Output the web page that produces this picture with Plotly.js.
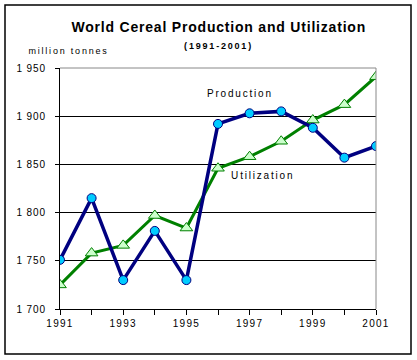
<!DOCTYPE html>
<html><head><meta charset="utf-8">
<script src="https://cdn.plot.ly/plotly-3.0.1.min.js"></script>
<style>
html,body{margin:0;padding:0;background:#fff;}
#chart .xtick text { letter-spacing: 1.3px; }
#chart .ytick text { letter-spacing: 0.9px; }
#chart .annotation text { letter-spacing: 1.8px; }
#chart .annotation[data-index="0"] text { letter-spacing: 0.8px; }
</style>
</head><body>
<div id="chart" style="width:417px;height:360px;"></div>
<script>
const years = [1991,1992,1993,1994,1995,1996,1997,1998,1999,2000,2001];
const production = [1751,1815,1730,1781,1730,1892,1903,1905,1888,1857,1869];
const utilization = [1725,1758,1766,1797,1784,1846,1858,1874,1896,1912,1941];
const xTickLabels = ['1991','','1993','','1995','','1997','','1999','','2001'];
const yTicks = [1700,1750,1800,1850,1900,1950];
const yTickLabels = ['1 700','1 750','1 800','1 850','1 900','1 950'];

const font = 'Liberation Sans, Arial, sans-serif';
const traces = [
  {x: years, y: utilization, type:'scatter', mode:'lines+markers', name:'Utilization',
   line:{color:'#008000', width:3},
   marker:{symbol:'triangle-up', size:11, color:'#CCFFCC', line:{color:'#008000', width:1}}},
  {x: years, y: production, type:'scatter', mode:'lines+markers', name:'Production',
   line:{color:'#000080', width:3.5},
   marker:{symbol:'circle', size:9, color:'#00CCFF', line:{color:'#000080', width:1}}}
];
const layout = {
  width:417, height:360,
  margin:{l:60, r:41, t:68, b:51},
  paper_bgcolor:'#fff', plot_bgcolor:'#fff',
  showlegend:false,
  font:{family:font, size:10, color:'#000'},
  xaxis:{range:[1991,2001], tickvals:years, ticktext:xTickLabels, ticks:'outside', ticklen:5,
    tickcolor:'#000', showgrid:false, zeroline:false, showline:true, linecolor:'#000', linewidth:1,
    tickfont:{family:font, size:10}},
  yaxis:{range:[1700,1950], tickvals:yTicks, ticktext:yTickLabels, ticks:'outside', ticklen:4,
    ticklabelstandoff:7,
    tickcolor:'#000', showgrid:true, gridcolor:'#000', gridwidth:1, zeroline:false,
    showline:true, linecolor:'#000', linewidth:1, tickfont:{family:font, size:10}},
  shapes:[
    {type:'rect', xref:'paper', yref:'paper', x0:-55/316, x1:1+35/316, y0:-45/241, y1:1+63/241,
     line:{color:'#000', width:1.5}, fillcolor:'rgba(0,0,0,0)', layer:'below'},
    {type:'line', xref:'paper', yref:'paper', x0:0, x1:1, y0:1, y1:1, line:{color:'#888', width:1}, layer:'above'},
    {type:'line', xref:'paper', yref:'paper', x0:1, x1:1, y0:0, y1:1, line:{color:'#888', width:1}, layer:'above'}
  ],
  annotations:[
    {text:'<b>World Cereal Production and Utilization</b>', xref:'paper', yref:'paper', x:0.5, y:1+41/241,
     showarrow:false, font:{family:font, size:14}, xanchor:'center', yanchor:'middle'},
    {text:'<b>(1991-2001)</b>', xref:'paper', yref:'paper', x:0.5, y:1+22/241,
     showarrow:false, font:{family:font, size:9}, xanchor:'center', yanchor:'middle'},
    {text:'million tonnes', xref:'paper', yref:'paper', x:8.5/316, y:1+17/241,
     showarrow:false, font:{family:font, size:9}, xanchor:'center', yanchor:'middle'},
    {text:'Production', x:1996.7, y:1924, showarrow:false, font:{family:font, size:10}},
    {text:'Utilization', x:1997.4, y:1838, showarrow:false, font:{family:font, size:10}}
  ]
};
Plotly.newPlot('chart', traces, layout, {displayModeBar:false, staticPlot:true});
</script>
</body></html>
